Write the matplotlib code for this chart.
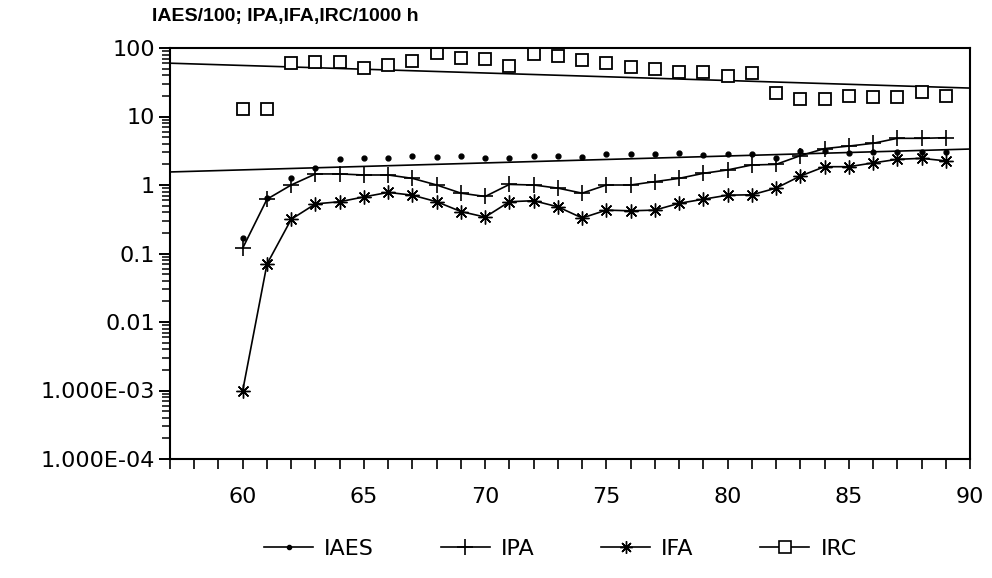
import matplotlib
matplotlib.use('Agg')
import matplotlib.pyplot as plt
from matplotlib.lines import Line2D
import numpy as np

# years 1960-1989
years = list(range(60, 90))

iaes = [0.17, 0.65, 1.26, 1.77, 2.4, 2.5, 2.45, 2.68, 2.6, 2.68,
        2.45, 2.47, 2.68, 2.68, 2.6, 2.8, 2.8, 2.8, 2.95, 2.7,
        2.8, 2.8, 2.5, 3.1, 3.1, 2.95, 3.0, 3.0, 3.0, 3.0]
ipa = [0.12, 0.62, 1.0, 1.45, 1.45, 1.4, 1.4, 1.25, 1.0, 0.76,
       0.68, 1.02, 1.0, 0.9, 0.76, 1.0, 1.0, 1.12, 1.25, 1.48,
       1.66, 1.96, 2.0, 2.68, 3.4, 3.7, 4.06, 4.8, 4.8, 4.9]
ifa = [0.001, 0.07, 0.316, 0.53, 0.57, 0.67, 0.78, 0.71, 0.57, 0.41,
       0.34, 0.57, 0.59, 0.48, 0.33, 0.43, 0.42, 0.43, 0.54, 0.62,
       0.71, 0.72, 0.9, 1.35, 1.85, 1.85, 2.1, 2.37, 2.45, 2.25]
irc = [13, 13, 60, 62, 62, 51, 56, 64, 85, 71,
       69, 55, 82, 77, 67, 60, 52, 49.5, 45, 44,
       39.5, 43, 22, 18, 18, 20, 19.5, 19, 23, 20]

# trend lines (value at each end of the x range)
trend_x = [57, 90]
iaes_trend = [1.55, 3.35]
irc_trend = [60, 26]

ytick_vals = [1e-4, 1e-3, 0.01, 0.1, 1, 10, 100]
ytick_labels = ['1.000E-04', '1.000E-03', '0.01', '0.1', '1', '10', '100']
xtick_vals = [60, 65, 70, 75, 80, 85, 90]

plt.rcParams['font.family'] = 'DejaVu Sans'

fig = plt.figure(figsize=(9.92, 5.78), dpi=100)
ax = fig.add_axes([170/992, 1-459/578, 800/992, 411/578])

lw = 1.2
ax.plot(trend_x, iaes_trend, color='black', lw=lw)
ax.plot(trend_x, irc_trend, color='black', lw=lw)
ax.plot(years, iaes, linestyle='none', marker='o', ms=3.5, color='black')
ax.plot(years, ipa, color='black', lw=lw, marker='+', ms=12, mew=1.2)
ax.plot(years, ifa, color='black', lw=lw, marker=(8, 2, 0), ms=10, mew=1.0)
ax.plot(years, irc, linestyle='none', marker='s', ms=9, mfc='white',
        mec='black', mew=1.3)

ax.set_yscale('log')
ax.set_xlim(57, 90)
ax.set_yticks(ytick_vals, ytick_labels)
minor_y = [k * 10.0**d for d in range(-4, 2) for k in range(2, 10)]
ax.set_yticks(minor_y, minor=True)
ax.set_ylim(1e-4, 100)
ax.set_xticks(xtick_vals)
ax.set_xticks(np.arange(57, 91, 1), minor=True)
ax.tick_params(axis='x', which='both', direction='out', length=7, width=1.2,
               pad=13, labelsize=16, colors='black')
ax.tick_params(axis='y', which='major', direction='out', length=8, width=1.4,
               pad=3, labelsize=16, colors='black')
ax.tick_params(axis='y', which='minor', direction='out', length=6, width=1.1,
               colors='black')
for s in ax.spines.values():
    s.set_linewidth(1.5)

fig.text(152/992, 1-17/578, 'IAES/100; IPA,IFA,IRC/1000 h',
         family='Liberation Sans', weight='bold', fontsize=14, va='center')

handles = [
    Line2D([], [], color='black', lw=1.2, marker='o', ms=3),
    Line2D([], [], color='black', lw=1.2, marker='+', ms=12, mew=1.2),
    Line2D([], [], color='black', lw=1.2, marker=(8, 2, 0), ms=9, mew=1.0),
    Line2D([], [], color='black', lw=1.2, marker='s', ms=8, mfc='white',
           mec='black', mew=1.2),
]
fig.legend(handles, ['IAES', 'IPA', 'IFA', 'IRC'], loc='center',
           bbox_to_anchor=(0.565, 0.05), ncol=4, frameon=False,
           fontsize=16, handlelength=2.2, columnspacing=3.0, handletextpad=0.5)

fig.savefig('out.png', dpi=100)
